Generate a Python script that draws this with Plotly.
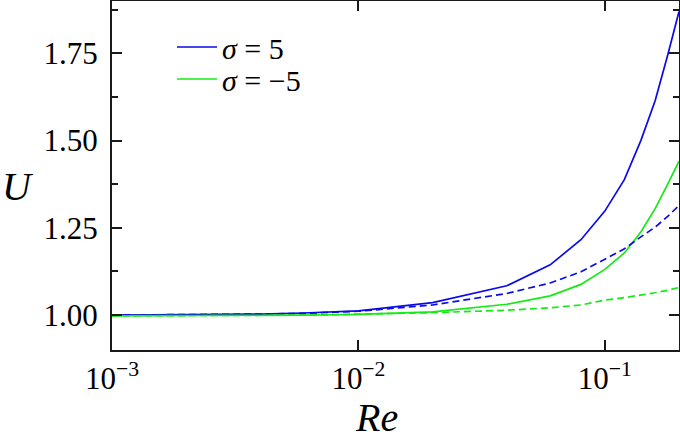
import plotly.graph_objects as go

# Data
re_vals = [0.001, 0.002, 0.004, 0.006, 0.008, 0.01, 0.02, 0.04, 0.06, 0.08, 0.1, 0.12, 0.14, 0.16, 0.18, 0.2]
blue_solid = [1.000, 1.001, 1.003, 1.006, 1.009, 1.012, 1.036, 1.084, 1.144, 1.216, 1.298, 1.388, 1.500, 1.614, 1.745, 1.870]
blue_dashed = [1.000, 1.001, 1.003, 1.005, 1.008, 1.011, 1.029, 1.062, 1.092, 1.124, 1.160, 1.190, 1.224, 1.252, 1.283, 1.314]
green_solid = [0.998, 0.998, 0.999, 1.000, 1.001, 1.002, 1.009, 1.031, 1.055, 1.088, 1.131, 1.178, 1.238, 1.305, 1.375, 1.441]
green_dashed = [0.998, 0.998, 0.999, 1.000, 1.001, 1.002, 1.007, 1.014, 1.021, 1.029, 1.043, 1.050, 1.057, 1.064, 1.071, 1.079]

x_tickvals = [0.001, 0.01, 0.1]
x_ticktext = ["10<sup>\u22123</sup>", "10<sup>\u22122</sup>", "10<sup>\u22121</sup>"]
y_tickvals = [1.00, 1.25, 1.50, 1.75]
y_ticktext = ["1.00", "1.25", "1.50", "1.75"]
legend_names = ["<i>\u03c3</i> = 5", "<i>\u03c3</i> = \u22125"]

BLUE = "rgb(10,10,235)"
GREEN = "rgb(20,235,20)"
FONT = "Liberation Serif, Times New Roman, Times, DejaVu Serif, serif"
AX = "#1a1a1a"

fig = go.Figure()
fig.add_trace(go.Scatter(x=re_vals, y=blue_solid, mode="lines", name=legend_names[0],
                         line=dict(color=BLUE, width=1.7), legend="legend"))
fig.add_trace(go.Scatter(x=re_vals, y=green_solid, mode="lines", name=legend_names[1],
                         line=dict(color=GREEN, width=1.7), legend="legend2"))
fig.add_trace(go.Scatter(x=re_vals, y=blue_dashed, mode="lines", showlegend=False,
                         line=dict(color=BLUE, width=1.7, dash="7px,4px")))
fig.add_trace(go.Scatter(x=re_vals, y=green_dashed, mode="lines", showlegend=False,
                         line=dict(color=GREEN, width=1.7, dash="7px,4px")))

W, H = 680, 443
ML, MR, MT, MB = 112, 1, 1, 93
pw, ph = W - ML - MR, H - MT - MB

def px_to_paper_x(px):
    return (px - ML) / pw

def px_to_paper_y(py):
    return (H - MB - py) / ph

legend_common = dict(font=dict(family=FONT, size=30, color="black"),
                     bgcolor="rgba(0,0,0,0)", borderwidth=0,
                     xanchor="left", yanchor="middle", itemwidth=40,
                     tracegroupgap=0)

fig.update_layout(
    width=W, height=H,
    margin=dict(l=ML, r=MR, t=MT, b=MB, autoexpand=False),
    paper_bgcolor="white", plot_bgcolor="white",
    font=dict(family=FONT, size=30, color="black"),
    showlegend=True,
    legend=dict(x=px_to_paper_x(172), y=px_to_paper_y(47), **legend_common),
    legend2=dict(x=px_to_paper_x(172), y=px_to_paper_y(79), **legend_common),
    xaxis=dict(
        type="log", range=[-3, -0.699],
        tickvals=x_tickvals, ticktext=x_ticktext,
        ticks="inside", ticklen=10, tickwidth=1.6, tickcolor=AX,
        showline=True, linecolor=AX, linewidth=2, mirror="ticks",
        showgrid=False, zeroline=False, automargin=False,
        tickfont=dict(family=FONT, size=31, color="black"),
        ticklabelstandoff=0,
    ),
    yaxis=dict(
        range=[0.9, 1.9],
        tickvals=y_tickvals, ticktext=y_ticktext,
        ticks="inside", ticklen=10, tickwidth=1.6, tickcolor=AX,
        minor=dict(tickvals=[1.125, 1.375, 1.625, 1.875], ticks="inside", ticklen=6,
                   tickwidth=1.6, tickcolor=AX, showgrid=False),
        showline=True, linecolor=AX, linewidth=2, mirror="ticks",
        showgrid=False, zeroline=False, automargin=False,
        tickfont=dict(family=FONT, size=31, color="black"),
        ticklabelstandoff=6,
    ),
    annotations=[
        dict(text="<i>Re</i>", x=px_to_paper_x(376), y=px_to_paper_y(417),
             xref="paper", yref="paper", showarrow=False,
             font=dict(family=FONT, size=40, color="black"),
             xanchor="center", yanchor="middle"),
        dict(text="<i>U</i>", x=px_to_paper_x(18), y=px_to_paper_y(186),
             xref="paper", yref="paper", showarrow=False,
             font=dict(family=FONT, size=40, color="black"),
             xanchor="center", yanchor="middle"),
    ],
)

fig.write_html(
    "out.html",
    config={"displayModeBar": False},
    post_script="document.body.style.margin='0';document.body.style.overflow='hidden';",
)
